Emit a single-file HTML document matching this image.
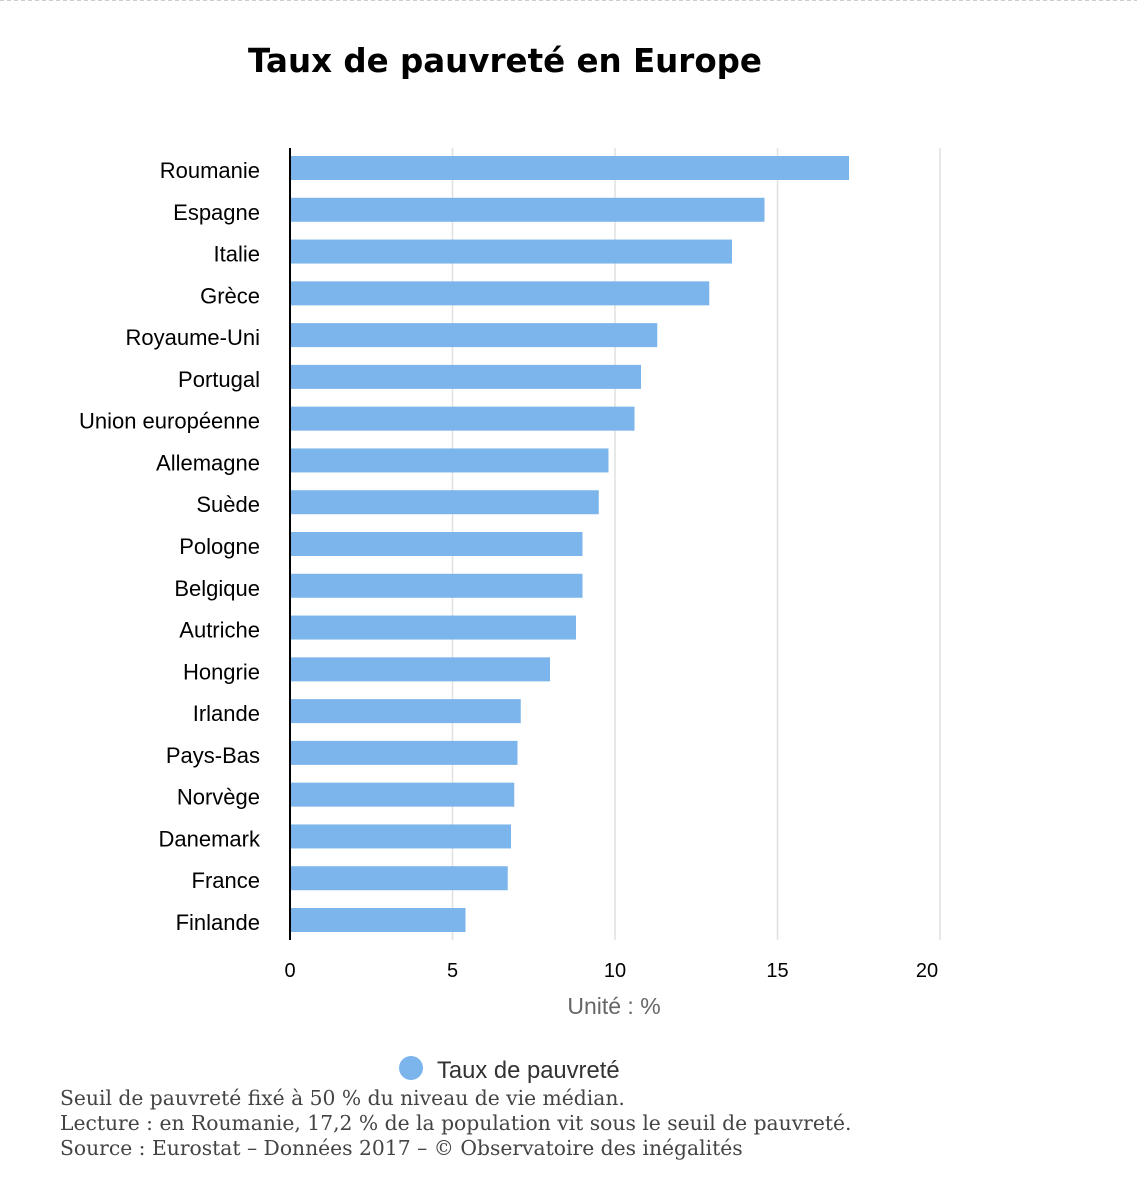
<!DOCTYPE html>
<html><head><meta charset="utf-8"><style>
html,body{margin:0;padding:0;background:#fff;}
body{width:1137px;height:1189px;position:relative;overflow:hidden;}
</style></head><body>
<svg width="1137" height="1189" style="position:absolute;left:0;top:0">
<line x1="0" y1="0.5" x2="1137" y2="0.5" stroke="#ccc" stroke-dasharray="4,3"/>
<text x="505" y="72" text-anchor="middle" font-family="'DejaVu Sans',sans-serif" font-weight="bold" font-size="32.5" fill="#000">Taux de pauvreté en Europe</text>
<g id="grid"></g><g id="bars"></g><g id="labels"></g>
<line x1="290" y1="148" x2="290" y2="940" stroke="#000" stroke-width="2"/>
<text x="614" y="1014" text-anchor="middle" font-family="'Liberation Sans',sans-serif" font-size="23" fill="#666">Unité : %</text>
<g>
<circle cx="411" cy="1068" r="12" fill="#7cb5ec"/>
<text x="437" y="1078" font-family="'Liberation Sans',sans-serif" font-size="23.8" fill="#333">Taux de pauvreté</text>
</g>
<g font-family="'DejaVu Serif',serif" font-size="20.3" fill="#444">
<text x="60" y="1105">Seuil de pauvreté fixé à 50 % du niveau de vie médian.</text>
<text x="60" y="1130">Lecture : en Roumanie, 17,2 % de la population vit sous le seuil de pauvreté.</text>
<text x="60" y="1155">Source : Eurostat – Données 2017 – © Observatoire des inégalités</text>
</g>
</svg>
<script>
const categories=["Roumanie","Espagne","Italie","Grèce","Royaume-Uni","Portugal","Union européenne","Allemagne","Suède","Pologne","Belgique","Autriche","Hongrie","Irlande","Pays-Bas","Norvège","Danemark","France","Finlande"];
const values=[17.2,14.6,13.6,12.9,11.3,10.8,10.6,9.8,9.5,9.0,9.0,8.8,8.0,7.1,7.0,6.9,6.8,6.7,5.4];
const ticks=[0,5,10,15,20];
const tickLabels=["0","5","10","15","20"];
const NS="http://www.w3.org/2000/svg";
const x=v=>290+v*32.5;
const y=i=>168+i*(752/18);
const grid=document.getElementById('grid'),bars=document.getElementById('bars'),labels=document.getElementById('labels');
ticks.forEach((t,i)=>{
 if(t>0){const l=document.createElementNS(NS,'line');
 l.setAttribute('x1',x(t));l.setAttribute('x2',x(t));l.setAttribute('y1',148);l.setAttribute('y2',940);
 l.setAttribute('stroke','#e0e0e0');l.setAttribute('stroke-width','1.5');
 
 
 grid.appendChild(l);}
 const tx=document.createElementNS(NS,'text');
 tx.setAttribute('x',i==ticks.length-1?x(t)-13:x(t));tx.setAttribute('y',977);tx.setAttribute('text-anchor','middle');
 tx.setAttribute('font-family',"'Liberation Sans',sans-serif");tx.setAttribute('font-size','20');tx.setAttribute('fill','#000');
 tx.textContent=tickLabels[i];
 
 
 grid.appendChild(tx);
});
categories.forEach((c,i)=>{
 const r=document.createElementNS(NS,'rect');
 r.setAttribute('x',290);r.setAttribute('y',y(i)-12);r.setAttribute('width',x(values[i])-290);r.setAttribute('height',24);
 r.setAttribute('fill','#7cb5ec');
 
 
 bars.appendChild(r);
 const t=document.createElementNS(NS,'text');
 t.setAttribute('x',260);t.setAttribute('y',y(i)+10);t.setAttribute('text-anchor','end');
 t.setAttribute('font-family',"'Liberation Sans',sans-serif");t.setAttribute('font-size','22');t.setAttribute('fill','#000');
 t.textContent=c;
 
 
 labels.appendChild(t);
});
</script>
</body></html>
